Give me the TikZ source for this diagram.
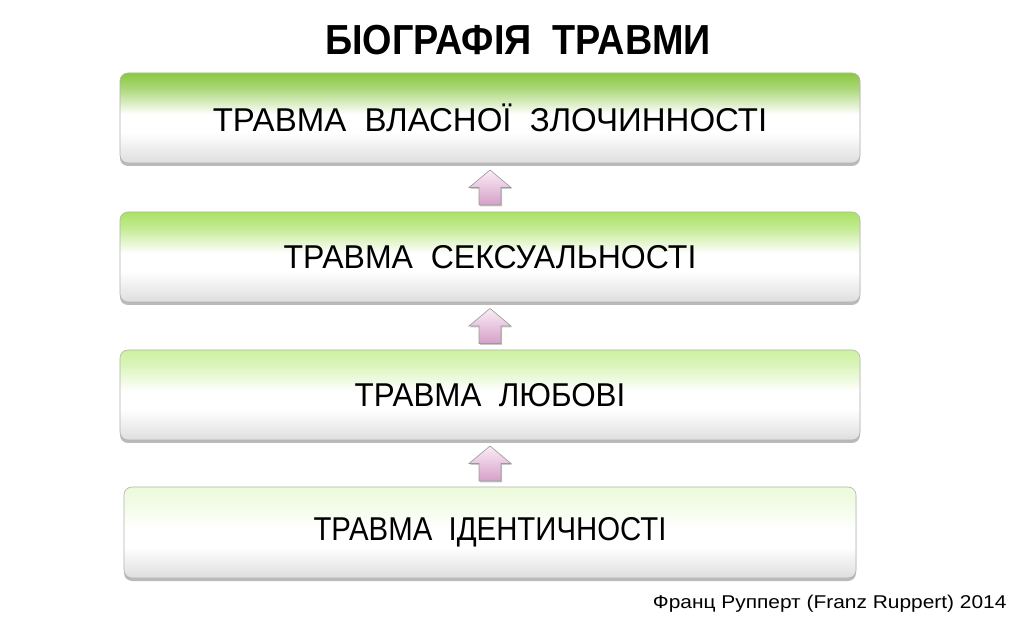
\documentclass[tikz,border=0pt]{standalone}
\usepackage{fontspec}
\setmainfont{Liberation Sans}
\usetikzlibrary{shadows,calc}
\definecolor{gA}{RGB}{138,200,66}
\definecolor{gB}{RGB}{170,226,100}
\definecolor{gC}{RGB}{205,241,160}
\definecolor{gD}{RGB}{236,250,218}
\definecolor{botg}{RGB}{222,222,222}
\definecolor{pinkT}{RGB}{250,236,246}
\definecolor{pinkB}{RGB}{214,160,200}
\pgfdeclareverticalshading{shA}{100bp}{color(0bp)=(botg); color(25bp)=(botg); color(42bp)=(white); color(52bp)=(white); color(66bp)=(gA!70); color(75bp)=(gA); color(100bp)=(gA)}
\pgfdeclareverticalshading{shB}{100bp}{color(0bp)=(botg); color(25bp)=(botg); color(42bp)=(white); color(52bp)=(white); color(66bp)=(gB!70); color(75bp)=(gB); color(100bp)=(gB)}
\pgfdeclareverticalshading{shC}{100bp}{color(0bp)=(botg); color(25bp)=(botg); color(42bp)=(white); color(52bp)=(white); color(66bp)=(gC!70); color(75bp)=(gC); color(100bp)=(gC)}
\pgfdeclareverticalshading{shD}{100bp}{color(0bp)=(botg); color(25bp)=(botg); color(42bp)=(white); color(52bp)=(white); color(66bp)=(gD!70); color(75bp)=(gD); color(100bp)=(gD)}
\tikzset{
  box/.style={draw=black!30, line width=0.6pt, rounded corners=8pt, minimum width=740pt, minimum height=90pt, inner sep=0pt,
    font=\fontsize{33}{36}\selectfont, text=black,
    drop shadow={shadow xshift=0pt, shadow yshift=-3pt, opacity=0.45, fill=black!60}},
  uparr/.style={draw=black!40, line width=0.6pt, top color=pinkT, bottom color=pinkB,
    drop shadow={shadow xshift=1pt, shadow yshift=-1.5pt, opacity=0.35, fill=black!60}},
}
\newcommand{\blockarrow}[2]{%
  \path[uparr] let \p1=($(#1.north)!0.5!(#2.south)$) in
    (\x1-11pt,\y1-17.5pt) -- (\x1+11pt,\y1-17.5pt) -- (\x1+11pt,\y1) -- (\x1+21pt,\y1)
    -- (\x1,\y1+17.5pt) -- (\x1-21pt,\y1) -- (\x1-11pt,\y1) -- cycle;}
\begin{document}
\begin{tikzpicture}[x=1pt,y=1pt]
\useasboundingbox[fill=white] (0,0) rectangle (1024,626);
\node[font=\bfseries\fontsize{42}{44}\selectfont] (title) at (518,586) {\scalebox{0.9}[1]{БІОГРАФІЯ\ \ ТРАВМИ}};
\node[box, shading=shA] (b1) at (490,508) {ТРАВМА\ \ ВЛАСНОЇ\ \ ЗЛОЧИННОСТІ};
\node[box, shading=shB] (b2) at (490,369) {\scalebox{0.97}[1]{ТРАВМА\ \ СЕКСУАЛЬНОСТІ}};
\node[box, shading=shC] (b3) at (490,231) {\scalebox{0.95}[1]{ТРАВМА\ \ ЛЮБОВІ}};
\node[box, shading=shD, minimum width=732pt, minimum height=91pt] (b4) at (490,93.5) {\scalebox{0.89}[1]{ТРАВМА\ \ ІДЕНТИЧНОСТІ}};
\blockarrow{b2}{b1}
\blockarrow{b3}{b2}
\blockarrow{b4}{b3}
\node[anchor=base east, font=\fontsize{18.5}{20}\selectfont] (cap) at (1010,18) {\scalebox{1.13}[1]{Франц Рупперт (Franz Ruppert) 2014}};
\end{tikzpicture}
\end{document}
